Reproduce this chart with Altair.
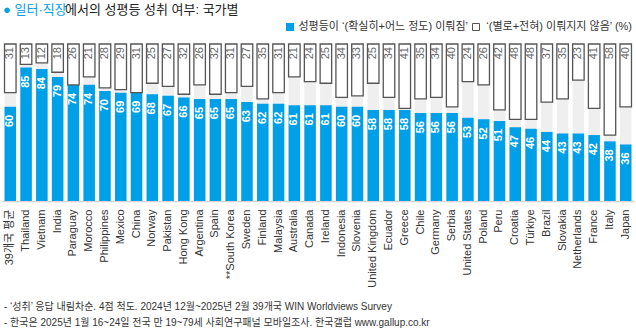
import altair as alt
import pandas as pd

countries = ["39개국 평균", "Thailand", "Vietnam", "India", "Paraguay", "Morocco", "Philippines",
             "Mexico", "China", "Norway", "Pakistan", "Hong Kong", "Argentina", "Spain",
             "**South Korea", "Sweden", "Finland", "Malaysia", "Australia", "Canada", "Ireland",
             "Indonesia", "Slovenia", "United Kingdom", "Ecuador", "Greece", "Chile", "Germany",
             "Serbia", "United States", "Poland", "Peru", "Croatia", "Türkiye", "Brazil",
             "Slovakia", "Netherlands", "France", "Italy", "Japan"]
yes_vals = [60, 85, 84, 79, 74, 74, 70, 69, 69, 68, 67, 66, 65, 65, 65, 63, 62, 62, 61, 61, 61,
            60, 60, 58, 58, 58, 56, 56, 56, 53, 52, 51, 47, 46, 44, 43, 43, 42, 38, 36]
no_vals = [31, 13, 12, 18, 26, 21, 28, 29, 31, 25, 27, 32, 26, 32, 31, 27, 35, 31, 21, 24, 25,
           34, 33, 25, 34, 41, 35, 34, 40, 24, 26, 42, 48, 48, 37, 35, 23, 41, 58, 40]

title_blue = "● 일터·직장"
title_rest = "에서의 성평등 성취 여부: 국가별"
legend_yes = "성평등이 ‘(확실히+어느 정도) 이뤄짐’"
legend_no = "‘(별로+전혀) 이뤄지지 않음’ (%)"
notes = ["- ‘성취’ 응답 내림차순. 4점 척도. 2024년 12월~2025년 2월 39개국 WIN Worldviews Survey",
         "- 한국은 2025년 1월 16~24일 전국 만 19~79세 사회연구패널 모바일조사. 한국갤럽 www.gallup.co.kr"]

df = pd.DataFrame({"country": countries, "yes": yes_vals, "no": no_vals})
df["top"] = 100
df["nobottom"] = 100 - df["no"]

BLUE = "#00A0E9"
FONT = "Liberation Sans, Noto Sans CJK KR, sans-serif"

x = alt.X("country:N", sort=countries, title=None,
          scale=alt.Scale(paddingInner=0.27, paddingOuter=0.16),
          axis=alt.Axis(labelAngle=-90, labelFontSize=11, labelColor="#333333", labelFont=FONT,
                        ticks=False, domainColor="#d4d4d4", domainWidth=1.5, labelPadding=8,
                        labelLimit=200))
yscale = alt.Scale(domain=[0, 100])
base = alt.Chart(df)

bg = base.mark_bar(color="#efefef").encode(x=x, y=alt.Y("top:Q", scale=yscale, axis=None))
yes = base.mark_bar(color=BLUE).encode(x=x, y=alt.Y("yes:Q", scale=yscale, axis=None))
nobox = base.mark_bar(color="white", stroke="#555555", strokeWidth=1.3).encode(
    x=x, y=alt.Y("top:Q", scale=yscale, axis=None), y2="nobottom:Q")
yes_t = base.mark_text(angle=270, align="right", baseline="middle", dx=-8, color="white",
                       fontWeight="bold", fontSize=11, font=FONT).encode(
    x=x, y=alt.Y("yes:Q", scale=yscale, axis=None), text="yes:Q")
no_t = base.mark_text(angle=270, align="right", baseline="middle", dx=-3, color="#666666",
                      fontSize=11, font=FONT).encode(
    x=x, y=alt.Y("top:Q", scale=yscale, axis=None), text="no:Q")


def label(txt, px, py, size=11, color="#333333", weight="normal", align="left"):
    return alt.Chart(pd.DataFrame({"t": [txt]})).mark_text(
        align=align, baseline="middle", fontSize=size, color=color, fontWeight=weight, font=FONT
    ).encode(x=alt.value(px), y=alt.value(py), text="t:N")


def box(x1, x2, y1, y2, fill, stroke=None):
    kw = {"color": fill}
    if stroke:
        kw = {"fill": fill, "stroke": stroke, "strokeWidth": 1}
    return alt.Chart(pd.DataFrame({"a": [0]})).mark_rect(**kw).encode(
        x=alt.value(x1), x2=alt.value(x2), y=alt.value(y1), y2=alt.value(y2))


t1 = label(title_blue, 1, -34, size=13, color=BLUE)
t2 = label(title_rest, 63, -34, size=13, color="#222222")
l1 = box(284, 292, -21, -13, BLUE)
l1t = label(legend_yes, 466, -17, align="right")
l2 = box(470.5, 477.5, -20.5, -13.5, "white", "#555555")
l2t = label(legend_no, 630, -17, align="right")
n1 = label(notes[0], 2, 263, size=10)
n2 = label(notes[1], 2, 279, size=10)

chart = alt.layer(bg, yes, nobox, yes_t, no_t, t1, t2, l1, l1t, l2, l2t, n1, n2).properties(
    width=632, height=157,
    autosize=alt.AutoSizeParams(type="none"),
    padding={"left": 2, "right": 2, "top": 44, "bottom": 133},
    background="white",
).configure_view(stroke=None)

chart.save("out.html", embed_options={"renderer": "svg", "actions": False})
